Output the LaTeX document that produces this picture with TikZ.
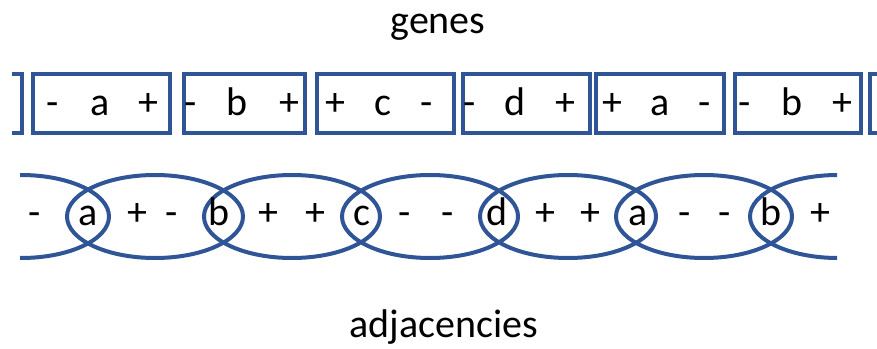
\documentclass[tikz,border=0pt]{standalone}
\usepackage{fontspec}
\setmainfont{Carlito}
\definecolor{lineblue}{RGB}{47,85,151}
\begin{document}
\begin{tikzpicture}[x=1pt,y=-1pt,
  shape line/.style={draw=lineblue,line width=4pt},
  lbl/.style={inner sep=0pt,anchor=base,font=\fontsize{40}{48}\selectfont},
  sgn/.style={inner sep=0pt,anchor=base,font=\fontsize{40}{48}\selectfont}]
\useasboundingbox (0,0) rectangle (877,348);
% titles
\node[lbl] (genes) at (438,33) {genes};
\node[lbl] (adj) at (444,337) {adjacencies};
% gene boxes
\begin{scope}
\clip (12,0) rectangle (877,348);
\draw[shape line] (-120,74) rectangle (22,133);
\draw[shape line] (33,74) rectangle (170,133);
\draw[shape line] (184,74) rectangle (305,133);
\draw[shape line] (317,74) rectangle (454,133);
\draw[shape line] (463,74) rectangle (590,133);
\draw[shape line] (596,74) rectangle (724,133);
\draw[shape line] (735,74) rectangle (861,133);
\draw[shape line] (870,74) rectangle (1000,133);
\end{scope}
% box texts
\foreach \x/\t [count=\i] in {53/-,100/a,148/+,191/-,237/b,289/+,335/+,383/c,427/-,470/-,515/d,565/+,612/+,660/a,705/-,745/-,792/b,842/+}
  \node[sgn] (g\i) at (\x,115) {\t};
% adjacency ellipses
\begin{scope}
\clip (20,0) rectangle (837,348);
\foreach \c in {21,155,292,430,568,704,838}
  \draw[shape line] (\c,216.5) ellipse [x radius=88, y radius=41.5];
\end{scope}
% adjacency texts
\foreach \x/\t [count=\i] in {35/-,88/a,137/+,172/-,219/b,268/+,315/+,362/c,405/-,448/-,497/d,545/+,590/+,638/a,685/-,725/-,771/b,820/+}
  \node[sgn] (a\i) at (\x,225) {\t};
\end{tikzpicture}
\end{document}
